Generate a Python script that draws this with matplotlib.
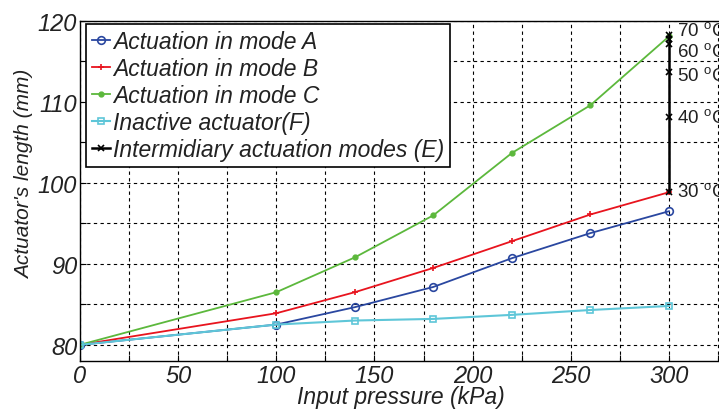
import matplotlib
matplotlib.use("Agg")
import matplotlib.pyplot as plt
from matplotlib.ticker import MultipleLocator, FuncFormatter

plt.rcParams["font.family"] = ["Liberation Sans", "DejaVu Sans"]
plt.rcParams["mathtext.fontset"] = "custom"
plt.rcParams["mathtext.rm"] = "Liberation Sans"

# Input pressure (kPa) and actuator length (mm)
pressure = [0, 100, 140, 180, 220, 260, 300]
mode_a = [80.0, 82.5, 84.65, 87.15, 90.7, 93.8, 96.5]
mode_b = [80.0, 83.9, 86.5, 89.5, 92.8, 96.1, 98.85]
mode_c = [80.0, 86.5, 90.8, 96.0, 103.7, 109.6, 118.1]
inactive = [80.0, 82.5, 83.0, 83.2, 83.7, 84.3, 84.8]

# Intermediary actuation modes at 300 kPa for different temperatures
inter_pressure = [300, 300, 300, 300, 300, 300]
inter_length = [98.85, 108.2, 113.7, 117.2, 117.8, 118.3]
temp_labels = ["30", "40", "50", "60", "70"]
temp_label_y = [98.9, 108.1, 113.2, 116.2, 118.8]

series_names = ["Actuation in mode A", "Actuation in mode B",
                "Actuation in mode C", "Inactive actuator(F)",
                "Intermidiary actuation modes (E)"]

fig = plt.figure(figsize=(7.19, 4.10), dpi=100)
ax = fig.add_axes([80 / 719, 48 / 410, 642 / 719, 340 / 410])

ax.plot(pressure, mode_a, color="#2a47a0", lw=1.3, marker="o", ms=5.5,
        mfc="none", mew=1.2, label=series_names[0])
ax.plot(pressure, mode_b, color="#e8141e", lw=1.3, marker="+", ms=5,
        mew=1.2, label=series_names[1])
ax.plot(pressure, mode_c, color="#5cb83c", lw=1.3, marker=".", ms=7,
        label=series_names[2])
ax.plot(pressure, inactive, color="#5ec6d8", lw=1.5, marker="s", ms=4.5,
        mfc="none", mew=1.2, label=series_names[3])
ax.plot(inter_pressure, inter_length, color="black", lw=1.8, marker="x",
        ms=4, mew=1.2, label=series_names[4])

for t, y in zip(temp_labels, temp_label_y):
    ax.text(304, y, t + r" $^{\mathrm{o}}$C", fontsize=13.5, va="center",
            ha="left", color="#222222", clip_on=False)

ax.set_xlim(0, 327)
ax.set_ylim(78, 120)
ax.xaxis.set_major_locator(MultipleLocator(25))
ax.yaxis.set_major_locator(MultipleLocator(5))
ax.xaxis.set_major_formatter(FuncFormatter(
    lambda v, p: f"{v:.0f}" if v % 50 == 0 and v <= 300 else ""))
ax.yaxis.set_major_formatter(FuncFormatter(
    lambda v, p: f"{v:.0f}" if v % 10 == 0 else ""))
ax.tick_params(direction="in", length=4, width=0.8, labelsize=17,
               colors="black", labelcolor="#222222", pad=2)
for lbl in ax.get_xticklabels() + ax.get_yticklabels():
    lbl.set_fontstyle("italic")

ax.grid(True, color="black", linestyle=(0, (3, 3)), lw=0.8)
for s in ax.spines.values():
    s.set_linewidth(1.0)
    s.set_color("black")

ax.set_xlabel("Input pressure (kPa)", fontsize=16.5, fontstyle="italic",
              color="#222222", labelpad=-1.5)
ax.set_ylabel("Actuator's length (mm)", fontsize=15, fontstyle="italic",
              color="#222222")
ax.yaxis.set_label_coords(-0.072, 0.553)

leg = ax.legend(loc="upper left", bbox_to_anchor=(0.009, 0.991),
                borderaxespad=0, handlelength=0.8, handletextpad=0.15,
                borderpad=0.25, labelspacing=0.18, fancybox=False,
                framealpha=1, edgecolor="black",
                prop={"style": "italic", "size": 16.5})
leg.get_frame().set_linewidth(1.2)
for t in leg.get_texts():
    t.set_color("#222222")

fig.savefig("out.png", dpi=100)
